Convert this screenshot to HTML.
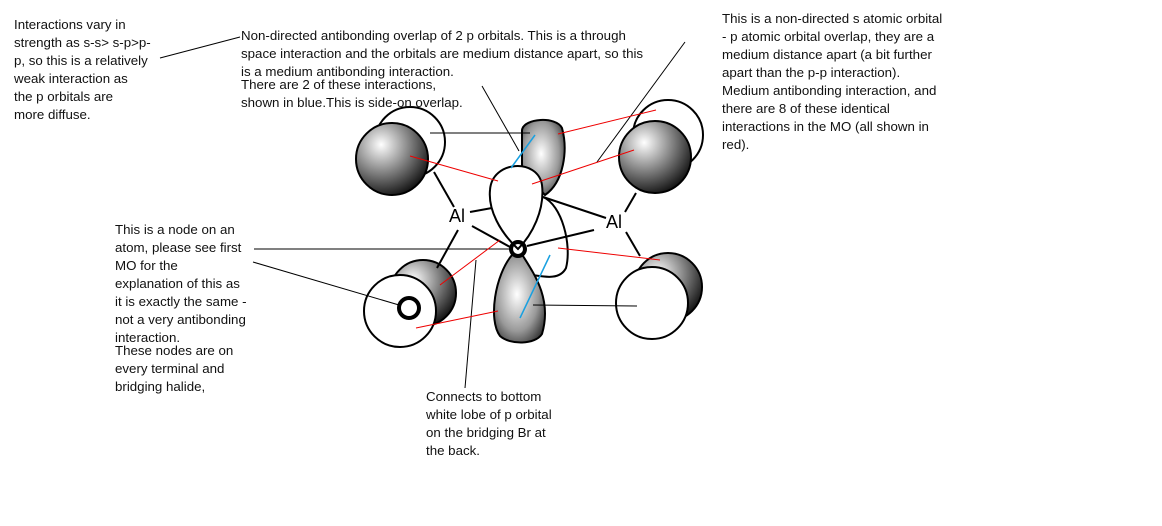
<!DOCTYPE html>
<html><head><meta charset="utf-8"><style>
body{margin:0;width:1162px;height:526px;background:#fff;position:relative;overflow:hidden;font-family:"Liberation Sans",sans-serif}
.t{position:absolute;font-size:13.3px;line-height:18px;color:#111;white-space:nowrap}
svg{position:absolute;left:0;top:0}
</style></head><body>
<svg width="1162" height="526">
<defs>
<radialGradient id="g" cx="0.35" cy="0.3" r="0.75"><stop offset="0" stop-color="#fff"/><stop offset="0.5" stop-color="#888"/><stop offset="1" stop-color="#111"/></radialGradient>
<radialGradient id="g2" cx="0.45" cy="0.45" r="0.7"><stop offset="0" stop-color="#fff"/><stop offset="0.6" stop-color="#999"/><stop offset="1" stop-color="#222"/></radialGradient>
</defs>
<g stroke="#000" stroke-width="2">
<circle cx="410" cy="142" r="35" fill="#fff"/>
<circle cx="392" cy="159" r="36" fill="url(#g)"/>
<circle cx="668" cy="135" r="35" fill="#fff"/>
<circle cx="655" cy="157" r="36" fill="url(#g)"/>
<circle cx="423" cy="293" r="33" fill="url(#g)"/>
<circle cx="400" cy="311" r="36" fill="#fff"/>
<circle cx="409" cy="308" r="10" fill="none" stroke-width="4"/>
<circle cx="668" cy="287" r="34" fill="url(#g)"/>
<circle cx="652" cy="303" r="36" fill="#fff"/>
<line x1="434" y1="172" x2="454" y2="207"/>
<line x1="470" y1="212" x2="492" y2="208"/>
<line x1="472" y1="226" x2="510" y2="247"/>
<line x1="458" y1="230" x2="437" y2="268"/>
<line x1="543" y1="197" x2="606" y2="218"/>
<line x1="527" y1="246" x2="594" y2="230"/>
<line x1="636" y1="193" x2="625" y2="212"/>
<line x1="626" y1="232" x2="640" y2="256"/>
<path d="M522,130 C524,118 556,116 562,128 C568,150 564,182 545,195 L522,170 Z" fill="url(#g2)"/>
<path d="M543,197 C562,205 572,245 566,268 C560,280 545,277 532,275" fill="none"/>
<path d="M518,249 C500,232 488,210 490,190 C492,160 538,158 542,185 C545,210 532,235 518,249 Z" fill="#fff"/>
<path d="M512,255 C495,275 488,320 500,336 C510,345 535,345 542,334 C552,300 535,275 523,256 Z" fill="url(#g2)"/>
<circle cx="518" cy="249" r="7" fill="none" stroke-width="4"/>
</g>
<text x="449" y="222" font-size="18" font-family="Liberation Sans">Al</text>
<text x="606" y="228" font-size="18" font-family="Liberation Sans">Al</text>
<g stroke="#000" stroke-width="1">
<line x1="160" y1="58" x2="240" y2="37"/>
<line x1="482" y1="86" x2="519" y2="151"/>
<line x1="685" y1="42" x2="597" y2="162"/>
<line x1="254" y1="249" x2="512" y2="249"/>
<line x1="253" y1="262" x2="399" y2="305"/>
<line x1="476" y1="260" x2="465" y2="388"/>
<line x1="430" y1="133" x2="530" y2="133"/>
<line x1="533" y1="305" x2="637" y2="306"/>
</g>
<g stroke="#e00" stroke-width="1">
<line x1="410" y1="156" x2="498" y2="181"/>
<line x1="558" y1="134" x2="656" y2="110"/>
<line x1="532" y1="184" x2="634" y2="150"/>
<line x1="440" y1="285" x2="500" y2="240"/>
<line x1="416" y1="328" x2="498" y2="311"/>
<line x1="558" y1="248" x2="660" y2="260"/>
</g>
<g stroke="#19a0e0" stroke-width="1.5">
<line x1="511" y1="168" x2="535" y2="135"/>
<line x1="520" y1="318" x2="550" y2="255"/>
</g>
</svg>
<div class="t" style="left:14px;top:16px">Interactions vary in<br>strength as s-s&gt; s-p&gt;p-<br>p, so this is a relatively<br>weak interaction as<br>the p orbitals are<br>more diffuse.</div>
<div class="t" style="left:241px;top:27px">Non-directed antibonding overlap of 2 p orbitals. This is a through<br>space interaction and the orbitals are medium distance apart, so this<br>is a medium antibonding interaction.</div>
<div class="t" style="left:241px;top:76px">There are 2 of these interactions,<br>shown in blue.This is side-on overlap.</div>
<div class="t" style="left:722px;top:10px">This is a non-directed s atomic orbital<br>- p atomic orbital overlap, they are a<br>medium distance apart (a bit further<br>apart than the p-p interaction).<br>Medium antibonding interaction, and<br>there are 8 of these identical<br>interactions in the MO (all shown in<br>red).</div>
<div class="t" style="left:115px;top:221px">This is a node on an<br>atom, please see first<br>MO for the<br>explanation of this as<br>it is exactly the same -<br>not a very antibonding<br>interaction.</div>
<div class="t" style="left:115px;top:342px">These nodes are on<br>every terminal and<br>bridging halide,</div>
<div class="t" style="left:426px;top:388px">Connects to bottom<br>white lobe of p orbital<br>on the bridging Br at<br>the back.</div>
</body></html>
